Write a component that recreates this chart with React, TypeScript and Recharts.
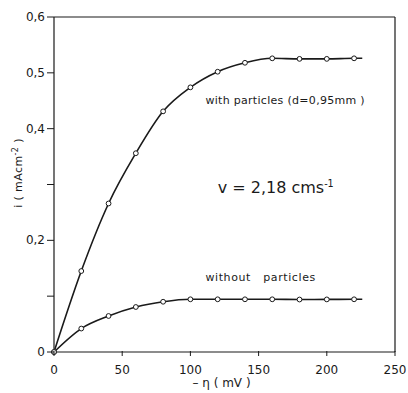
import { LineChart, Line, XAxis, YAxis, ReferenceLine, ReferenceDot } from "recharts";

const eta = [0, 20, 40, 60, 80, 100, 120, 140, 160, 180, 200, 220, 226];
const withParticles = [0, 0.145, 0.266, 0.356, 0.431, 0.474, 0.502, 0.518, 0.526, 0.525, 0.525, 0.526, 0.526];
const withoutParticles = [0, 0.042, 0.0645, 0.0806, 0.09, 0.0944, 0.0944, 0.0944, 0.0944, 0.094, 0.0942, 0.0944, 0.0944];
const xTicks = [0, 50, 100, 150, 200, 250];
const yTicks = [0, 0.1, 0.2, 0.3, 0.4, 0.5, 0.6];
const yLabelled = [0, 0.2, 0.4, 0.5, 0.6];

const data = eta.map((e, i) => ({ eta: e, withP: withParticles[i], withoutP: withoutParticles[i] }));

const FONT = "'DejaVu Sans', sans-serif";
const INK = "#1a1a1a";

function OpenDot(props: any) {
  const { cx, cy, payload } = props;
  if (payload.eta > 220) return null;
  return <circle cx={cx} cy={cy} r={2.4} fill="#fff" stroke={INK} strokeWidth={1} />;
}

function YTick(props: any) {
  const { x, y, payload } = props;
  const v = payload.value;
  const show = yLabelled.some((l) => Math.abs(l - v) < 1e-6);
  const text = v === 0 ? "0" : v.toFixed(1).replace(".", ",");
  return (
    <g>
      <line x1={x + 1} x2={x + 8} y1={y} y2={y} stroke={INK} strokeWidth={1} />
      {show && (
        <text x={x - 1} y={y + 4} textAnchor="end" fontSize={12} fontFamily={FONT} fill={INK}>
          {text}
        </text>
      )}
    </g>
  );
}

function XTick(props: any) {
  const { x, y, payload } = props;
  return (
    <g>
      <line x1={x} x2={x} y1={y - 4} y2={y - 9} stroke={INK} strokeWidth={1} />
      <text x={x} y={y + 14} textAnchor="middle" fontSize={12} fontFamily={FONT} fill={INK}>
        {payload.value}
      </text>
    </g>
  );
}

function YLabel() {
  return (
    <text transform="translate(22,173) rotate(-90)" textAnchor="middle" fontSize={11} fontFamily={FONT} fill={INK} letterSpacing={0.4}>
      i  ( mAcm
      <tspan dy={-4} fontSize={8}>-2</tspan>
      <tspan dy={4}> )</tspan>
    </text>
  );
}

function Note({ viewBox, text, size, sup, spacing = 0 }: any) {
  return (
    <text x={viewBox.cx ?? viewBox.x} y={viewBox.cy ?? viewBox.y} fontSize={size} fontFamily={FONT} fill={INK} letterSpacing={spacing} style={{ whiteSpace: "pre" }}>
      {text}
      {sup && (
        <tspan dy={-6} fontSize={size * 0.6}>
          {sup}
        </tspan>
      )}
    </text>
  );
}

export default function App() {
  return (
    <div style={{ position: "absolute", left: 0, top: 0, width: 408, height: 393, background: "#fff" }}>
      <LineChart width={408} height={393} data={data} margin={{ top: 17, right: 13, left: 0, bottom: 0 }}>
        <XAxis
          dataKey="eta"
          type="number"
          domain={[0, 250]}
          ticks={xTicks}
          height={41}
          stroke={INK}
          strokeWidth={1.2}
          tickLine={false}
          tick={<XTick />}
          label={{ value: "– η  ( mV )", position: "insideBottom", offset: 6, dx: -3, fontSize: 12, fontFamily: FONT, fill: INK }}
        />
        <YAxis
          type="number"
          domain={[0, 0.6]}
          ticks={yTicks}
          width={54}
          stroke={INK}
          strokeWidth={1.2}
          tickLine={false}
          tick={<YTick />}
          label={<YLabel />}
        />
        <ReferenceLine y={0.6} stroke={INK} strokeWidth={1.2} />
        <ReferenceLine x={250} stroke={INK} strokeWidth={1.2} />
        <Line
          dataKey="withP"
          type="monotone"
          stroke={INK}
          strokeWidth={1.6}
          dot={<OpenDot />}
          isAnimationActive={false}
        />
        <Line
          dataKey="withoutP"
          type="monotone"
          stroke={INK}
          strokeWidth={1.6}
          dot={<OpenDot />}
          isAnimationActive={false}
        />
        <ReferenceDot x={111} y={0.444} r={0} stroke="none" label={<Note text="with particles (d=0,95mm )" size={11} spacing={0.3} />} />
        <ReferenceDot x={120} y={0.285} r={0} stroke="none" label={<Note text="v = 2,18 cms" sup="-1" size={16} />} />
        <ReferenceDot x={111} y={0.127} r={0} stroke="none" label={<Note text="without   particles" size={11} spacing={0.6} />} />
      </LineChart>
    </div>
  );
}
